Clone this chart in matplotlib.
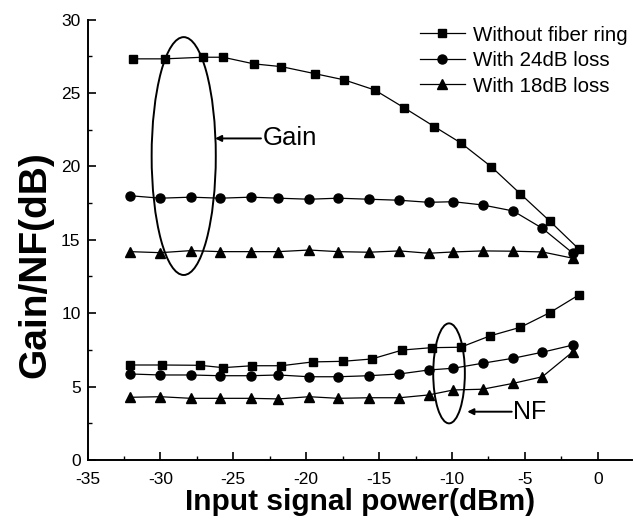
import matplotlib
matplotlib.use("Agg")
import matplotlib.pyplot as plt
from matplotlib.patches import Ellipse

plt.rcParams['font.family'] = ['Liberation Sans', 'DejaVu Sans']
plt.rcParams['axes.unicode_minus'] = False

# Input power (dBm) per series
x_sq_gain = [-31.9, -29.7, -27.1, -25.7, -23.6, -21.7, -19.4, -17.4,
             -15.3, -13.3, -11.2, -9.4, -7.3, -5.3, -3.3, -1.3]
x_sq_nf = [-32.1, -29.9, -27.3, -25.7, -23.7, -21.7, -19.55, -17.5,
           -15.5, -13.4, -11.4, -9.4, -7.4, -5.3, -3.3, -1.3]
x_loss = [-32.1, -30.0, -27.9, -25.9, -23.8, -21.9, -19.8, -17.8,
          -15.7, -13.6, -11.6, -9.9, -7.9, -5.8, -3.8, -1.7]

# Gain (dB)
gain_no_ring = [27.32, 27.32, 27.43, 27.43, 26.98, 26.79, 26.31, 25.89,
                25.2, 24.0, 22.7, 21.6, 19.97, 18.12, 16.28, 14.37]
gain_24 = [18.0, 17.83, 17.9, 17.83, 17.9, 17.83, 17.76, 17.83,
           17.76, 17.69, 17.55, 17.59, 17.37, 16.96, 15.78, 14.08]
gain_18 = [14.19, 14.12, 14.26, 14.19, 14.19, 14.19, 14.3, 14.19,
           14.15, 14.24, 14.08, 14.17, 14.24, 14.22, 14.17, 13.74]

# NF (dB)
nf_no_ring = [6.47, 6.47, 6.45, 6.29, 6.42, 6.42, 6.68, 6.72,
              6.88, 7.49, 7.65, 7.68, 8.45, 9.04, 10.03, 11.24]
nf_24 = [5.86, 5.79, 5.79, 5.74, 5.74, 5.79, 5.67, 5.67,
         5.74, 5.86, 6.13, 6.25, 6.59, 6.93, 7.34, 7.83]
nf_18 = [4.27, 4.31, 4.2, 4.2, 4.2, 4.16, 4.31, 4.2,
         4.24, 4.24, 4.43, 4.77, 4.82, 5.22, 5.67, 7.38]

labels = ["Without fiber ring", "With 24dB loss", "With 18dB loss"]
x_ticks = [-35, -30, -25, -20, -15, -10, -5, 0]
y_ticks = [0, 5, 10, 15, 20, 25, 30]

fig = plt.figure(figsize=(6.33, 5.25), dpi=100)
ax = fig.add_axes([87.5 / 633, 1 - 460 / 525, (632 - 87.5) / 633, (460 - 19.5) / 525])

lw = 0.9
kw = dict(color='black', lw=lw)
ax.plot(x_sq_gain, gain_no_ring, marker='s', ms=6, label=labels[0], **kw)
ax.plot(x_loss, gain_24, marker='o', ms=6.5, label=labels[1], **kw)
ax.plot(x_loss, gain_18, marker='^', ms=7, label=labels[2], **kw)
ax.plot(x_sq_nf, nf_no_ring, marker='s', ms=6, **kw)
ax.plot(x_loss, nf_24, marker='o', ms=6.5, **kw)
ax.plot(x_loss, nf_18, marker='^', ms=7, **kw)

# Ellipses and annotations
ax.add_patch(Ellipse((-28.4, 20.7), 4.4, 16.2, fill=False, ec='black', lw=1.4))
ax.add_patch(Ellipse((-10.2, 5.9), 2.17, 6.81, fill=False, ec='black', lw=1.4))
ax.annotate("", xy=(-26.25, 21.9), xytext=(-23.1, 21.9),
            arrowprops=dict(arrowstyle='-|>', color='black', lw=1.4,
                            mutation_scale=9, shrinkA=0, shrinkB=0))
ax.text(-22.95, 21.9, "Gain", fontsize=18.5, va='center', ha='left')
ax.annotate("", xy=(-8.95, 3.29), xytext=(-5.9, 3.29),
            arrowprops=dict(arrowstyle='-|>', color='black', lw=1.4,
                            mutation_scale=9, shrinkA=0, shrinkB=0))
ax.text(-5.8, 3.29, "NF", fontsize=18, va='center', ha='left')

ax.set_xlim(-35, 2.35)
ax.set_ylim(0, 30)
ax.set_xticks(x_ticks)
ax.set_yticks(y_ticks)
ax.set_xticks([-32.5, -27.5, -22.5, -17.5, -12.5, -7.5, -2.5], minor=True)
ax.set_yticks([2.5, 7.5, 12.5, 17.5, 22.5, 27.5], minor=True)
ax.tick_params(which='major', direction='in', length=6, width=1.2, labelsize=12.5)
ax.tick_params(axis='x', which='major', pad=9)
ax.tick_params(axis='y', which='major', pad=5)
ax.tick_params(which='minor', direction='in', length=3, width=1.0)
for s in ['top', 'right']:
    ax.spines[s].set_visible(False)
for s in ['left', 'bottom']:
    ax.spines[s].set_linewidth(1.4)

ax.set_xlabel("Input signal power(dBm)", fontsize=21.5, fontweight='bold', labelpad=0)
ax.set_ylabel("Gain/NF(dB)", fontsize=28, fontweight='bold')
ax.yaxis.set_label_coords(-0.062, 0.443)

leg = ax.legend(loc='upper right', bbox_to_anchor=(1.0073, 1.005), frameon=False,
                fontsize=14.8, handlelength=2.2, handletextpad=0.4,
                labelspacing=0.32, borderaxespad=0)

fig.savefig("out.png", dpi=100)
